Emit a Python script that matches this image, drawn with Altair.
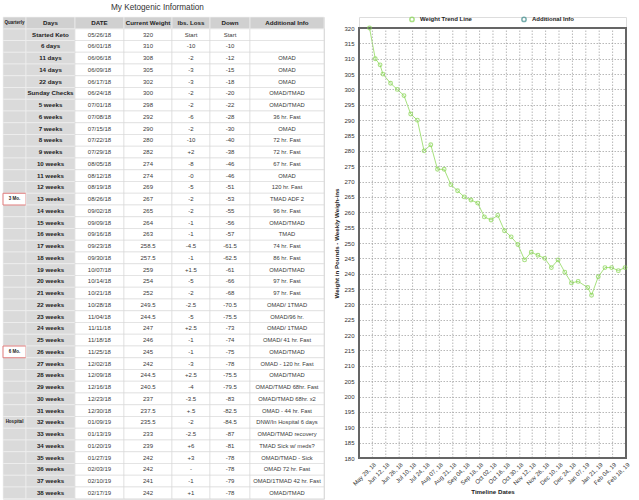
import altair as alt
import pandas as pd

title_text = "My Ketogenic Information"
headers = ["Quarterly", "Days", "DATE", "Current Weight", "lbs. Loss", "Down", "Additional Info"]

quarterly = ["", "", "", "", "", "", "", "", "", "", "", "", "", "", "3 Mo.", "", "", "", "", "",
             "", "", "", "", "", "", "", "6 Mo.", "", "", "", "", "", "Hospital", "", "", "", "", "", ""]
days = ["Started Keto", "6 days", "11 days", "14 days", "22 days", "Sunday Checks",
        "5 weeks", "6 weeks", "7 weeks", "8 weeks", "9 weeks", "10 weeks", "11 weeks", "12 weeks",
        "13 weeks", "14 weeks", "15 weeks", "16 weeks", "17 weeks", "18 weeks", "19 weeks", "20 weeks",
        "21 weeks", "22 weeks", "23 weeks", "24 weeks", "25 weeks", "26 weeks", "27 weeks", "28 weeks",
        "29 weeks", "30 weeks", "31 weeks", "32 weeks", "33 weeks", "34 weeks", "35 weeks", "36 weeks",
        "37 weeks", "38 weeks"]
dates = ["05/26/18", "06/01/18", "06/06/18", "06/09/18", "06/17/18", "06/24/18", "07/01/18", "07/08/18",
         "07/15/18", "07/22/18", "07/29/18", "08/05/18", "08/12/18", "08/19/18", "08/26/18", "09/02/18",
         "09/09/18", "09/16/18", "09/23/18", "09/30/18", "10/07/18", "10/14/18", "10/21/18", "10/28/18",
         "11/04/18", "11/11/18", "11/18/18", "11/25/18", "12/02/18", "12/09/18", "12/16/18", "12/23/18",
         "12/30/18", "01/09/19", "01/13/19", "01/20/19", "01/27/19", "02/03/19", "02/10/19", "02/17/19"]
weights = [320, 310, 308, 305, 302, 300, 298, 292, 290, 280, 282, 274, 274, 269, 267, 265, 264, 263,
           258.5, 257.5, 259, 254, 252, 249.5, 244.5, 247, 246, 245, 242, 244.5, 240.5, 237, 237.5,
           235.5, 233, 239, 242, 242, 241, 242]
weight_text = ["320", "310", "308", "305", "302", "300", "298", "292", "290", "280", "282", "274", "274",
               "269", "267", "265", "264", "263", "258.5", "257.5", "259", "254", "252", "249.5", "244.5",
               "247", "246", "245", "242", "244.5", "240.5", "237", "237.5", "235.5", "233", "239", "242",
               "242", "241", "242"]
loss = ["Start", "-10", "-2", "-3", "-3", "-2", "-2", "-6", "-2", "-10", "+2", "-8", "-0", "-5", "-2",
        "-2", "-1", "-1", "-4.5", "-1", "+1.5", "-5", "-2", "-2.5", "-5", "+2.5", "-1", "-1", "-3",
        "+2.5", "-4", "-3.5", "+.5", "-2", "-2.5", "+6", "+3", "-", "-1", "+1"]
down = ["Start", "-10", "-12", "-15", "-18", "-20", "-22", "-28", "-30", "-40", "-38", "-46", "-46",
        "-51", "-53", "-55", "-56", "-57", "-61.5", "-62.5", "-61", "-66", "-68", "-70.5", "-75.5",
        "-73", "-74", "-75", "-78", "-75.5", "-79.5", "-83", "-82.5", "-84.5", "-87", "-81", "-78",
        "-78", "-79", "-78"]
info = ["", "", "OMAD", "OMAD", "OMAD", "OMAD/TMAD", "OMAD/TMAD", "36 hr. Fast", "OMAD", "72 hr. Fast",
        "72 hr. Fast", "67 hr. Fast", "OMAD", "120 hr. Fast", "TMAD ADF 2", "96 hr. Fast", "OMAD/TMAD",
        "TMAD", "74 hr. Fast", "86 hr. Fast", "OMAD/TMAD", "97 hr. Fast", "97 hr. Fast", "OMAD/ 1TMAD",
        "OMAD/96 hr.", "OMAD/ 1TMAD", "OMAD/ 41 hr. Fast", "OMAD/TMAD", "OMAD - 120 hr. Fast", "OMAD/TMAD",
        "OMAD/TMAD 68hr. Fast", "OMAD/TMAD 68hr. x2", "OMAD - 44 hr. Fast", "DNW/In Hospital 6 days",
        "OMAD/TMAD recovery", "TMAD Sick w/ meds?", "OMAD/TMAD - Sick", "OMAD 72 hr. Fast",
        "OMAD/1TMAD 42 hr. Fast", "OMAD/TMAD"]

series_names = ["Weight Trend Line", "Additional Info"]
tick_dates = ["2018-05-29", "2018-06-12", "2018-06-26", "2018-07-10", "2018-07-24", "2018-08-07",
              "2018-08-21", "2018-09-04", "2018-09-18", "2018-10-02", "2018-10-16", "2018-10-30",
              "2018-11-12", "2018-11-26", "2018-12-10", "2018-12-24", "2019-01-07", "2019-01-21",
              "2019-02-04", "2019-02-18"]
x_domain = ["2018-05-15", "2019-02-18"]
y_min, y_max = 180, 320
y_ticks = [180, 185, 190, 195, 200, 205, 210, 215, 220, 225, 230, 235, 240, 245, 250, 255, 260, 265,
           270, 275, 280, 285, 290, 295, 300, 305, 310, 315, 320]

FONT = "Liberation Sans"

# ---------- table ----------
columns = [quarterly, days, dates, weight_text, loss, down, info]
recs = []
for c, name in enumerate(headers):
    recs.append({"col": name, "r": 0, "txt": name})
    for i, v in enumerate(columns[c]):
        recs.append({"col": name, "r": i + 1, "txt": v})
cells = pd.DataFrame(recs)

col_widths = [23, 49, 49, 48, 38, 40, 74]
n_rows = len(days) + 1
row_h = 11.75


def dt(s):
    y, m, d = s.split("-")
    return alt.DateTime(year=int(y), month=int(m), date=int(d), utc=True)


def table_col(name, width, gray, bold, fs):
    base = alt.Chart(cells).transform_filter(alt.datum.col == name)
    y = alt.Y("r:O", scale=alt.Scale(domain=list(range(n_rows)), paddingInner=0, paddingOuter=0), axis=None)
    body = base.transform_filter("datum.r > 0").mark_rect(
        fill="#dadada" if gray else "#ffffff",
        stroke="#f2f2f2" if gray else "#d9d9d9", strokeWidth=0.6).encode(y=y)
    head = base.transform_filter("datum.r == 0").mark_rect(
        fill="#d0d0d0", stroke="#f4f4f4", strokeWidth=0.6).encode(y=y)
    layers = [body, head]
    if name == "Quarterly":
        box = base.transform_filter("indexof(datum.txt, 'Mo.') >= 0").mark_rect(
            fill="#ffffff", stroke="#e07a7a", strokeWidth=1).encode(y=y)
        layers.append(box)
    htext = base.transform_filter("datum.r == 0").mark_text(
        font=FONT, fontWeight="bold", fontSize=4.5 if name == "Quarterly" else 6.2, color="#222222"
    ).encode(y=y, text="txt:N")
    btext = base.transform_filter("datum.r > 0").mark_text(
        font=FONT, fontWeight="bold" if bold else "normal", fontSize=fs,
        color="#222222" if bold else "#3a3a3a"
    ).encode(y=y, text="txt:N")
    layers += [htext, btext]
    return alt.layer(*layers).properties(width=width, height=n_rows * row_h)


table = alt.hconcat(
    table_col("Quarterly", col_widths[0], True, True, 4.5),
    table_col("Days", col_widths[1], True, True, 6.2),
    table_col("DATE", col_widths[2], False, False, 6),
    table_col("Current Weight", col_widths[3], False, False, 6),
    table_col("lbs. Loss", col_widths[4], False, False, 6),
    table_col("Down", col_widths[5], False, False, 6),
    table_col("Additional Info", col_widths[6], False, False, 5.8),
    spacing=0,
    bounds="flush",
)

# ---------- line chart ----------
iso_dates = ["20" + d[6:8] + "-" + d[0:2] + "-" + d[3:5] for d in dates]
wdf = pd.DataFrame({"date": iso_dates, "weight": weights, "series": series_names[0]})
tdf = pd.DataFrame({"tick": tick_dates})

GREEN = "#86d451"
TEAL = "#3f8c8c"
GRID = "#9a9a9a"

plot_h = 430
head_room = 11                      # legend strip above the framed area, in px
y_top = y_max + head_room * (y_max - y_min) / plot_h

xscale = alt.Scale(type="utc", domain=[dt(x_domain[0]), dt(x_domain[1])])
yscale = alt.Scale(domain=[y_min, y_top], nice=False, zero=False)

x_axis = alt.Axis(values=[dt(t) for t in tick_dates], format="%b %d, %y", labelAngle=315,
                  labelOverlap=False, grid=False,
                  title="Timeline Dates", labelFontSize=6, titleFontSize=6.2, titleFontWeight="bold",
                  labelColor="#333333", titleColor="#222222", domain=False, ticks=False,
                  labelPadding=3, titlePadding=2, labelFont=FONT, titleFont=FONT)
y_axis = alt.Axis(values=y_ticks, title="Weight in Pounds - Weekly Weigh-ins", labelFontSize=6,
                  titleFontSize=6.2, titleFontWeight="bold", labelColor="#333333",
                  titleColor="#222222", domain=False, ticks=False, labelPadding=5, titlePadding=4,
                  titleY=head_room + plot_h / 2,
                  gridDash=[1.5, 1.5], gridColor=GRID, gridWidth=0.7,
                  labelFont=FONT, titleFont=FONT)

x = alt.X("date:T", scale=xscale, axis=x_axis)
y = alt.Y("weight:Q", scale=yscale, axis=y_axis)
color = alt.Color("series:N",
                  scale=alt.Scale(domain=series_names, range=[GREEN, TEAL]),
                  legend=alt.Legend(title=None, orient="none", direction="horizontal", legendX=50,
                                    legendY=-1, padding=0, symbolType="circle", symbolSize=18,
                                    symbolStrokeWidth=1.5,
                                    symbolFillColor="#ffffff", labelFontSize=6, labelFontWeight="bold",
                                    labelColor="#222222", columnPadding=46, labelOffset=5,
                                    labelFont=FONT))

line = alt.Chart(wdf).mark_line(color="#a8e27f", strokeWidth=1).encode(x=x, y=y)
vgrid = alt.Chart(tdf).mark_rule(color=GRID, strokeWidth=0.7, strokeDash=[1.5, 1.5]).encode(
    x=alt.X("tick:T", scale=xscale, axis=x_axis),
    y=alt.YDatum(y_min, scale=yscale, axis=y_axis), y2=alt.Y2Datum(y_max))
frame = alt.Chart(tdf).mark_rect(fillOpacity=0, stroke="#666666", strokeWidth=1.5).encode(
    y=alt.YDatum(y_max, scale=yscale, axis=y_axis), y2=alt.Y2Datum(y_min))
pts = alt.Chart(wdf).mark_point(shape="circle", filled=False, size=14, strokeWidth=1.1).encode(
    x=x, y=y, color=color)
plot = alt.layer(line, vgrid, frame, pts).properties(width=267, height=plot_h + head_room)

chart = alt.hconcat(table, plot, spacing=8).properties(
    title=alt.Title(title_text, anchor="start", dx=109, fontSize=8.2, fontWeight="normal",
                    color="#333333", offset=3, font=FONT),
    padding={"left": 2, "top": 3, "right": 0, "bottom": 0},
).resolve_legend(color="independent").configure_view(stroke="transparent").configure(font=FONT)

chart.save("out.html", embed_options={"renderer": "svg", "actions": False})
